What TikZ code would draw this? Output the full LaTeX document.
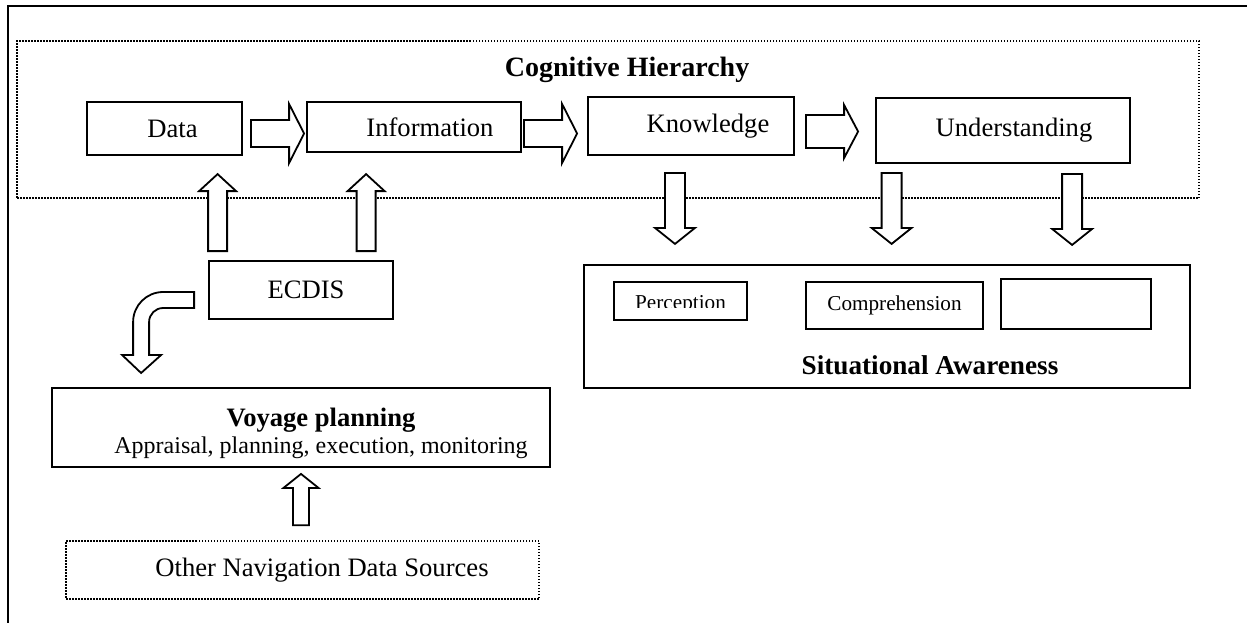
\documentclass[tikz,border=0pt]{standalone}
\usepackage{fontspec}
\setmainfont{Liberation Serif}
\usepackage{tikz}
\usetikzlibrary{positioning,calc}

\tikzset{
  box/.style={draw, line width=0.9pt, inner sep=0pt, font=\fontsize{13.3pt}{16pt}\selectfont},
  smallbox/.style={draw, line width=0.9pt, inner sep=0pt, font=\fontsize{10.6pt}{12pt}\selectfont},
  dotbox/.style={draw, line width=0.8pt, dash pattern=on 0.75pt off 0.75pt, inner sep=0pt, font=\fontsize{13.3pt}{16pt}\selectfont},
  barrow/.style={draw, line width=0.9pt, fill=white, line join=miter},
  boldtitle/.style={inner sep=0pt, font=\fontsize{13.6pt}{16pt}\selectfont\bfseries},
}

\newcommand{\blockarrow}[5]{%
  \coordinate (ba-s) at #1;
  \coordinate (ba-e) at #2;
  \coordinate (ba-h) at ($(ba-e)!#5!(ba-s)$);
  \draw[barrow] ($(ba-s)!#3!90:(ba-e)$) -- ($(ba-h)!#3!90:(ba-e)$) -- ($(ba-h)!#4!90:(ba-e)$)
    -- (ba-e) -- ($(ba-h)!#4!-90:(ba-e)$) -- ($(ba-h)!#3!-90:(ba-e)$) -- ($(ba-s)!#3!-90:(ba-e)$) -- cycle;
}

\begin{document}
\begin{tikzpicture}[x=0.5pt, y=-0.5pt]
  \useasboundingbox (0,0) rectangle (1247,623);
  \draw[line width=1pt] (1247,6) -- (8,6) -- (8,623);

  \node[dotbox, minimum width=591pt, minimum height=78.5pt] (cogbox) at (608,119.5) {};
  \node[boldtitle, font=\fontsize{14pt}{16pt}\selectfont\bfseries] (cogtitle) at (627,70) {Cognitive Hierarchy};

  \node[box, minimum width=77.5pt, minimum height=26.5pt] (data) at (164.5,128.5) {\hspace*{8pt}Data};
  \node[box, minimum width=107pt, minimum height=25pt] (info) at (414,127) {\hspace*{16pt}Information};
  \node[box, minimum width=103pt, minimum height=29pt] (know) at (691,126) {\hspace*{17pt}Knowledge};
  \node[box, minimum width=127pt, minimum height=32.5pt] (und) at (1003,130.5) {\hspace*{11pt}Understanding};

  \node[box, minimum width=92pt, minimum height=29pt] (ecdis) at (301,290) {\hspace*{5pt}ECDIS};

  \node[box, minimum width=303pt, minimum height=61.5pt] (sabox) at (887,326.5) {};
  \node[boldtitle] (satitle) at (930,365) {Situational Awareness};
  \node[smallbox, minimum width=66.5pt, minimum height=19pt] (percep) at (680.5,301) {};
  \begin{scope}
    \clip (percep.north west) rectangle ($(percep.east)+(0,6)$);
    \node[inner sep=0pt, font=\fontsize{10.6pt}{12pt}\selectfont] (perceptext) at ($(percep.center)+(0,4)$) {Perception};
  \end{scope}
  \node[smallbox, minimum width=88.5pt, minimum height=23.5pt] (compre) at (894.5,305.5) {Comprehension};
  \node[smallbox, minimum width=75pt, minimum height=25pt] (proj) at (1076,304) {};

  \node[box, minimum width=249pt, minimum height=39.5pt] (voyage) at (301,427.5)
    {\hspace*{20pt}\raisebox{-3pt}[\height][\depth]{\begin{tabular}{@{}c@{}}\textbf{Voyage planning}\\[-2.5pt]
     \fontsize{12pt}{14pt}\selectfont Appraisal, planning, execution, monitoring\end{tabular}}};
  \node[dotbox, minimum width=236.5pt, minimum height=29pt] (othernav) at (302.5,570) {\hspace*{19.5pt}Other Navigation Data Sources};

  \blockarrow{($(data.east)+(8,5)$)}{($(info.west)+(-2,6.5)$)}{6.75pt}{14.75pt}{7.5pt}
  \blockarrow{($(info.east)+(2,6.5)$)}{($(know.west)+(-10,7.5)$)}{6.75pt}{14.75pt}{7.5pt}
  \blockarrow{($(know.east)+(11,5.5)$)}{($(und.west)+(-17,1)$)}{8.25pt}{13.25pt}{7pt}

  \blockarrow{($(ecdis.north west)+(9.5,-9)$)}{($(ecdis.north west)+(9.5,-86)$)}{4.75pt}{9.25pt}{8.5pt}
  \blockarrow{($(ecdis.north west)+(158,-9)$)}{($(ecdis.north west)+(158,-86)$)}{4.75pt}{9.25pt}{8.5pt}

  \blockarrow{($(know.south)+(-16,17)$)}{($(know.south)+(-16,88)$)}{5pt}{10pt}{8pt}
  \blockarrow{($(und.south west)+(16.5,9)$)}{($(und.south west)+(16.5,80)$)}{5pt}{10pt}{8pt}
  \blockarrow{($(und.south west)+(197,10)$)}{($(und.south west)+(197,81)$)}{5pt}{10pt}{8pt}

  \blockarrow{($(othernav.north)+(-1.5,-15)$)}{($(voyage.south)+(0,6)$)}{4pt}{8.75pt}{7pt}

  \draw[barrow] ($(ecdis.west)+(-14,2)$) -- ++(-31,0) arc[start angle=90, end angle=180, radius=15pt]
    -- ++(0,33) -- ++(-11,0) -- ++(19,18) -- ++(20,-18) -- ++(-12,0) -- ++(0,-33)
    arc[start angle=180, end angle=90, radius=7pt] -- ++(31,0) -- cycle;
\end{tikzpicture}
\end{document}
